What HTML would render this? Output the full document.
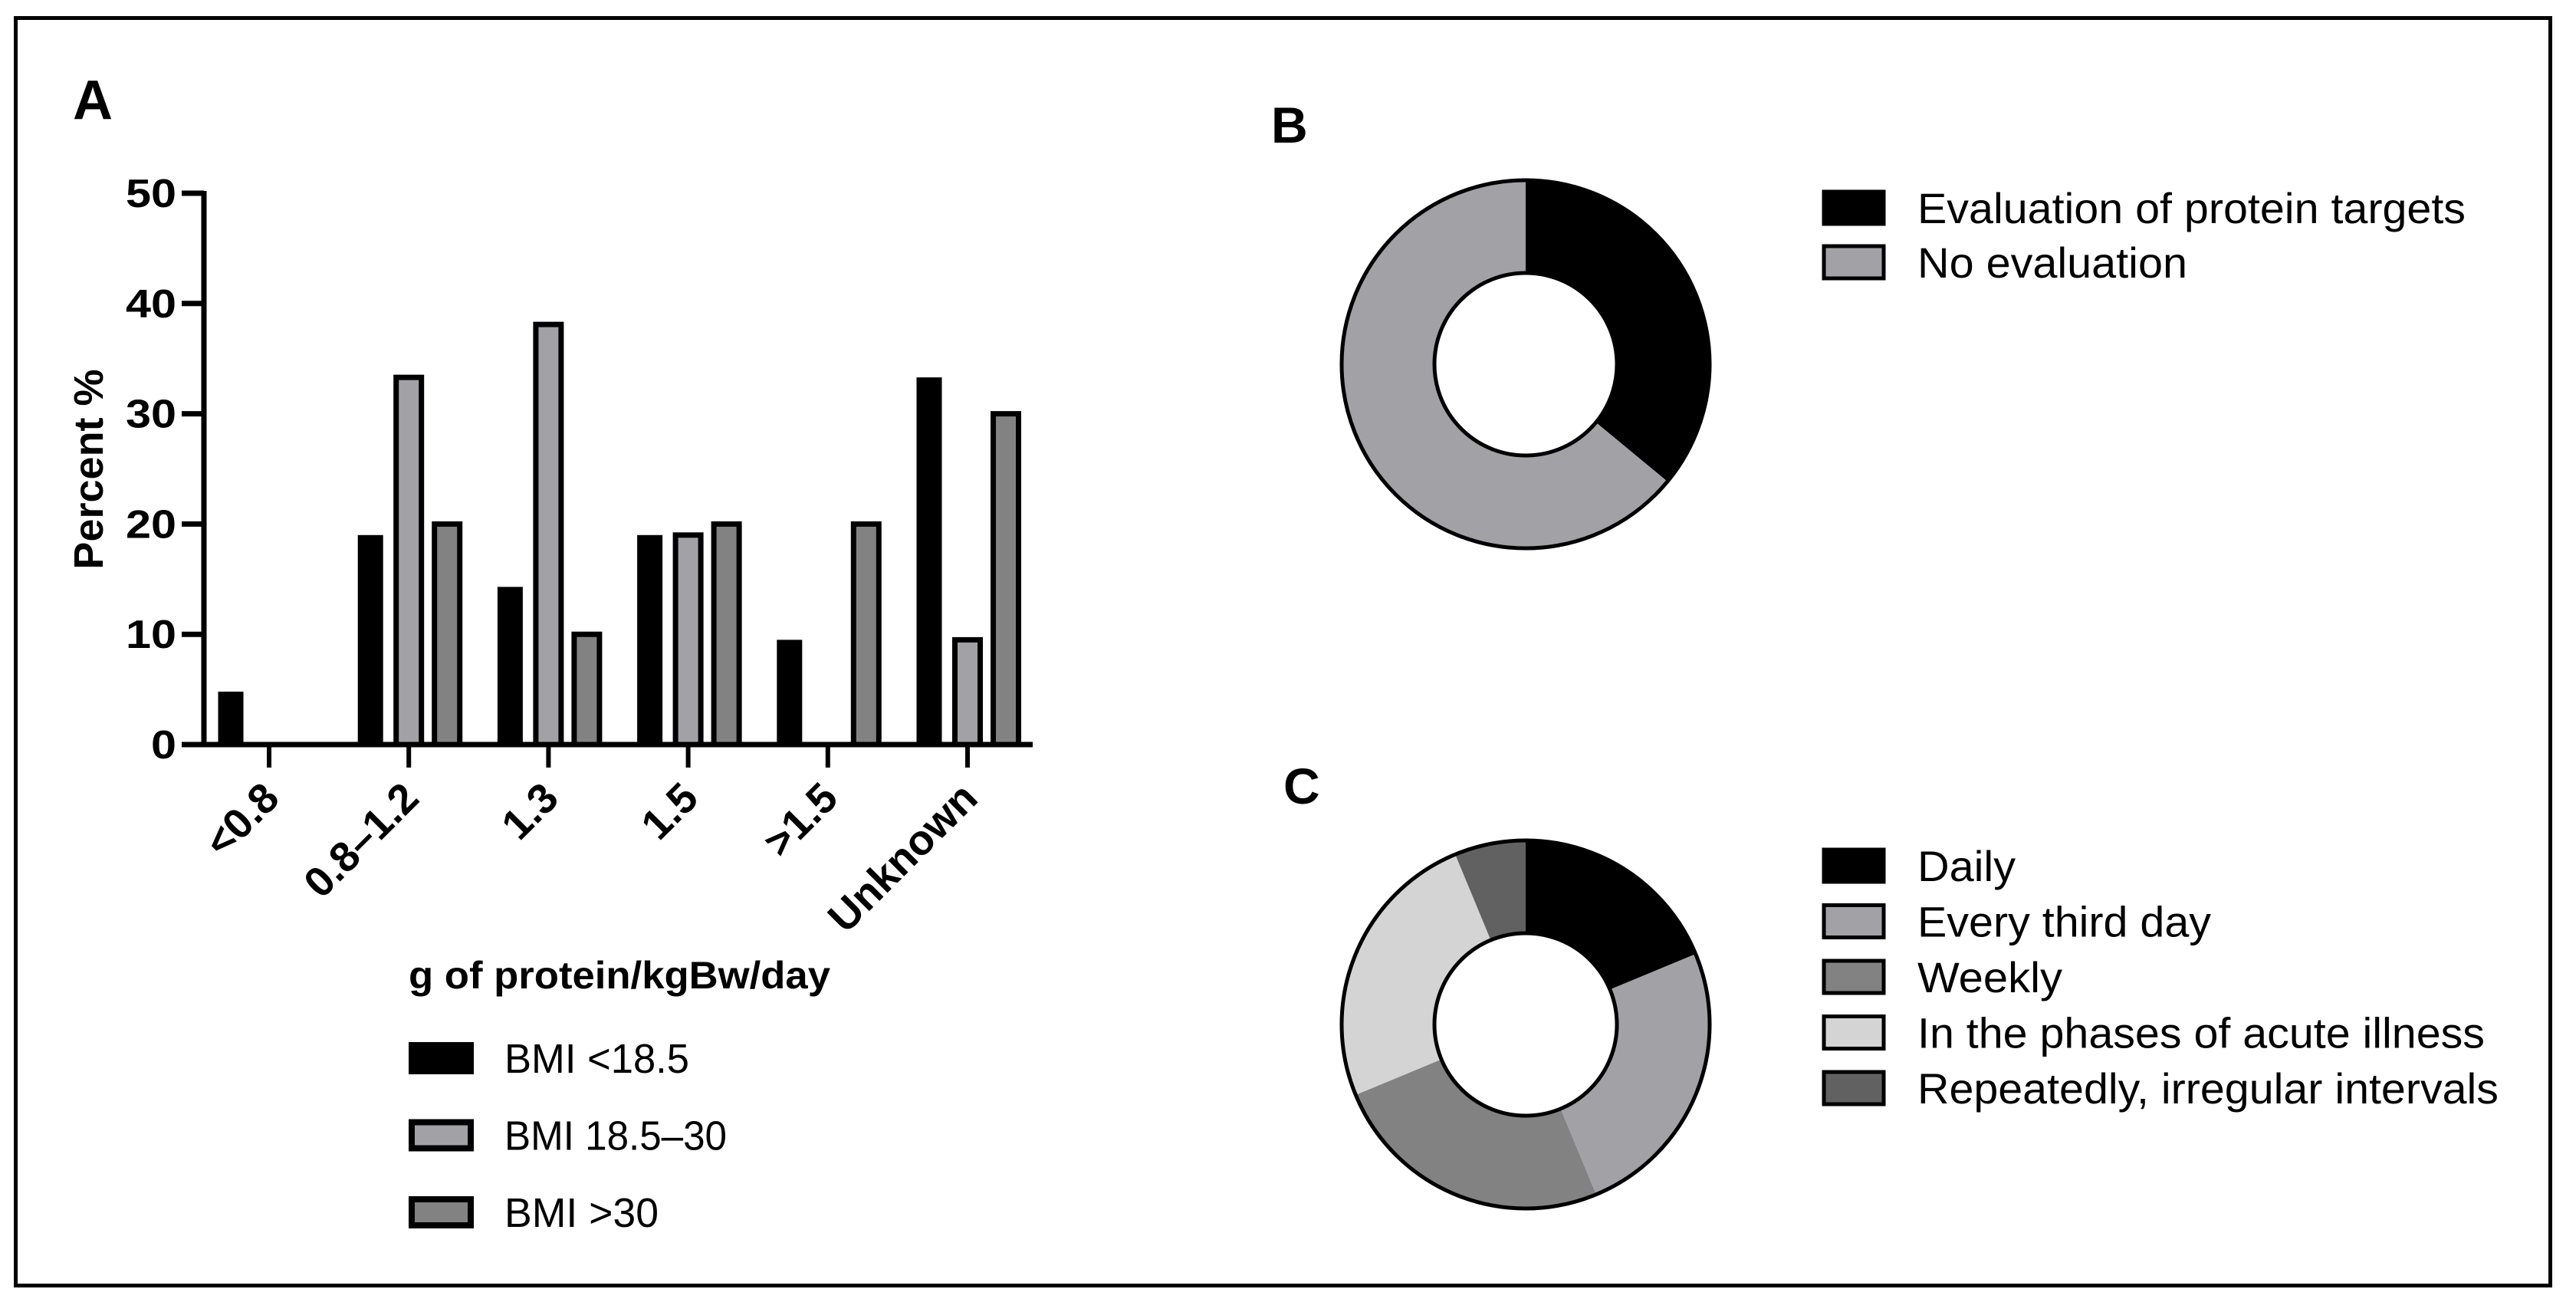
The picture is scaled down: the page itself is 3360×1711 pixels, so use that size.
<!DOCTYPE html>
<html><head><meta charset="utf-8"><style>
html,body{margin:0;padding:0;background:#fff}
svg{display:block}
text{font-family:"Liberation Sans",sans-serif}
</style></head><body>
<svg id="fig" width="3360" height="1711" viewBox="0 0 3360 1711" xmlns="http://www.w3.org/2000/svg">
<rect x="20.5" y="23.5" width="3306" height="1653" fill="#fff" stroke="#000" stroke-width="5"/>
<text x="95" y="155" font-size="72" font-weight="bold">A</text>
<text x="1658" y="186" font-size="66" font-weight="bold">B</text>
<text x="1674" y="1048" font-size="66" font-weight="bold">C</text>
<g id="chartA"></g>
<g id="chartB"></g>
<g id="chartC"></g>
</svg>
<script>
const NS="http://www.w3.org/2000/svg";
const categories=["<0.8","0.8–1.2","1.3","1.5",">1.5","Unknown"];
const seriesNames=["BMI <18.5","BMI 18.5–30","BMI >30"];
const bmiLow=[4.8,19,14.3,19,9.5,33.3];
const bmiMid=[0,33.3,38.1,19,0,9.5];
const bmiHigh=[0,20,10,20,20,30];
const yTicks=[0,10,20,30,40,50];
const bLabels=["Evaluation of protein targets","No evaluation"];
const bValues=[36,64];
const cLabels=["Daily","Every third day","Weekly","In the phases of acute illness","Repeatedly, irregular intervals"];
const cValues=[3,4,4,4,1];

function mk(tag,attrs,parent){const e=document.createElementNS(NS,tag);for(const k in attrs)e.setAttribute(k,attrs[k]);parent.appendChild(e);return e;}

// Panel A
const A=document.getElementById('chartA');
const y0=971,yTop=252,xAxis=266,firstTick=351,step=182.2;
const yS=v=>y0-(v/50)*(y0-yTop);
const xS=i=>firstTick+i*step;
const fills=["#000","#a2a2a6","#828282"];
const series=[bmiLow,bmiMid,bmiHigh];
const offs=[-50,0,50];const bw=33;
series.forEach((arr,s)=>{arr.forEach((v,i)=>{
  if(v<=0)return;
  const cx=xS(i)+offs[s];
  const r=mk('rect',{x:cx-bw/2,y:yS(v),width:bw,height:y0-yS(v),fill:fills[s],stroke:s?"#000":"none","stroke-width":s?7:0},A);
  
  
});});
const ya=mk('line',{x1:xAxis,y1:yTop-3,x2:xAxis,y2:y0+3,stroke:"#000","stroke-width":7},A);


const xa=mk('line',{x1:xAxis-3,y1:y0,x2:1347,y2:y0,stroke:"#000","stroke-width":7},A);


yTicks.forEach(t=>{
  mk('line',{x1:237,y1:yS(t),x2:xAxis,y2:yS(t),stroke:"#000","stroke-width":7},A);
  const tx=mk('text',{x:230,y:yS(t)+18,"font-size":52,"font-weight":"bold","text-anchor":"end",textLength:String(t).length*33,lengthAdjust:"spacingAndGlyphs"},A);
  tx.textContent=t;
  
  
});
categories.forEach((c,i)=>{
  mk('line',{x1:xS(i),y1:y0,x2:xS(i),y2:1001,stroke:"#000","stroke-width":6},A);
  const tx=mk('text',{x:xS(i)+16,y:1044,"font-size":55,"font-weight":"bold","text-anchor":"end",transform:`rotate(-45 ${xS(i)+16} 1044)`},A);
  tx.textContent=c;
  
  
});
const yt=mk('text',{x:0,y:0,"font-size":54,"font-weight":"bold","text-anchor":"middle",transform:"translate(134 612) rotate(-90)"},A);
yt.textContent="Percent %";


const xt=mk('text',{x:533,y:1289,"font-size":50,"font-weight":"bold",textLength:550,lengthAdjust:"spacingAndGlyphs"},A);
xt.textContent="g of protein/kgBw/day";


const legW=[241,290,201];
seriesNames.forEach((n,s)=>{
  const cy=1380+s*100.5;
  const r=mk('rect',{x:s?537:533,y:s?cy-17:cy-21,width:s?77:85,height:s?34:42,fill:fills[s],stroke:s?"#000":"none","stroke-width":s?8:0},A);
  
  
  const t=mk('text',{x:658,y:cy+19,"font-size":54,textLength:legW[s],lengthAdjust:"spacingAndGlyphs"},A);
  t.textContent=n;
  
  
});

function donut(g,cx,cy,R,r,vals,cols){
  const tot=vals.reduce((a,b)=>a+b,0);let acc=0;
  vals.forEach((v,i)=>{
    const a0=acc/tot*2*Math.PI;acc+=v;const a1=acc/tot*2*Math.PI;
    const p=(rad,a)=>[cx+rad*Math.sin(a),cy-rad*Math.cos(a)];
    const large=(a1-a0)>Math.PI?1:0;
    const [x0,y0_]=p(R,a0),[x1,y1]=p(R,a1),[x2,y2]=p(r,a1),[x3,y3]=p(r,a0);
    const path=mk('path',{d:`M${x0},${y0_} A${R},${R} 0 ${large} 1 ${x1},${y1} L${x2},${y2} A${r},${r} 0 ${large} 0 ${x3},${y3} Z`,fill:cols[i],stroke:"none"},g);
    
    
  });
  mk('circle',{cx,cy,r:R,fill:"none",stroke:"#000","stroke-width":5},g);
  mk('circle',{cx,cy,r:r,fill:"#fff",stroke:"#000","stroke-width":5},g);
}
function legend(g,labels,cols,y0l,stepl,widths){
  labels.forEach((l,i)=>{
    const cy=y0l+i*stepl;
    const r=mk('rect',{x:2379,y:cy-21,width:78,height:42,fill:cols[i],stroke:"#000","stroke-width":5},g);
    
    
    const t=mk('text',{x:2501,y:cy+20,"font-size":56,textLength:widths[i],lengthAdjust:"spacingAndGlyphs"},g);
    t.textContent=l;
    
    
  });
}
const bCols=["#000","#a2a2a6"];
const cCols=["#000","#a2a2a6","#828282","#d4d4d4","#616161"];
const B=document.getElementById('chartB');
donut(B,1990,475,240,119,bValues,bCols);
legend(B,bLabels,bCols,271,71,[715,352]);
const C=document.getElementById('chartC');
donut(C,1990,1336,240,119,cValues,cCols);
legend(C,cLabels,cCols,1129,72.5,[128,383,189,740,758]);
</script>
</body></html>
